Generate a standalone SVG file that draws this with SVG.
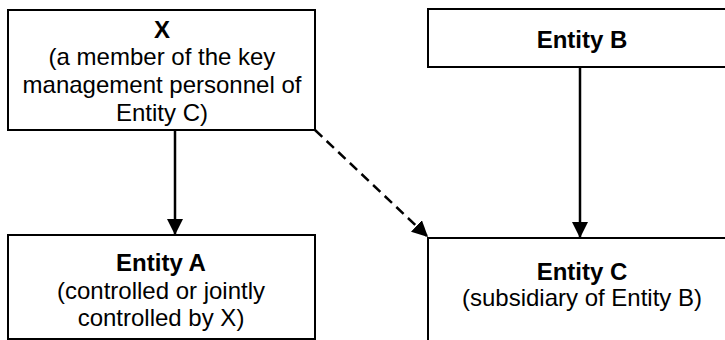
<svg xmlns="http://www.w3.org/2000/svg" width="725" height="340" viewBox="0 0 725 340">
<style>
.box{fill:#fff;stroke:#000;stroke-width:2}
text{font-family:"Liberation Sans",Arial,sans-serif;font-size:24px;fill:#000;text-anchor:middle}
.b{font-weight:bold}
.c{stroke:#000;stroke-width:2.5;fill:none}
.d{stroke-dasharray:10 6}
</style>
<defs>
<marker id="ah" markerWidth="16" markerHeight="16" refX="16" refY="8" orient="auto" markerUnits="userSpaceOnUse">
<path d="M0,0 L16,8 L0,16 Z" fill="#000"/>
</marker>
</defs>
<rect width="725" height="340" fill="#fff"/>
<g id="connectors">
<line class="c" x1="175" y1="130" x2="175" y2="235" marker-end="url(#ah)"/>
<line class="c" x1="580" y1="67" x2="580" y2="238" marker-end="url(#ah)"/>
<line class="c d" x1="315" y1="130" x2="428" y2="237" marker-end="url(#ah)"/>
</g>
<g id="nodeX">
<rect class="box" x="8" y="10" width="307" height="120"/>
<text x="162" y="38" class="b">X</text>
<text x="162" y="65">(a member of the key</text>
<text x="162" y="93">management personnel of</text>
<text x="162" y="121">Entity C)</text>
</g>
<g id="nodeB">
<rect class="box" x="428" y="9" width="310" height="58"/>
<text x="582" y="48" class="b">Entity B</text>
</g>
<g id="nodeA">
<rect class="box" x="8" y="235" width="307" height="104"/>
<text x="161" y="271" class="b">Entity A</text>
<text x="161" y="299">(controlled or jointly</text>
<text x="161" y="326">controlled by X)</text>
</g>
<g id="nodeC">
<rect class="box" x="428" y="238" width="310" height="112"/>
<text x="582" y="280" class="b">Entity C</text>
<text x="582" y="306">(subsidiary of Entity B)</text>
</g>
</svg>
